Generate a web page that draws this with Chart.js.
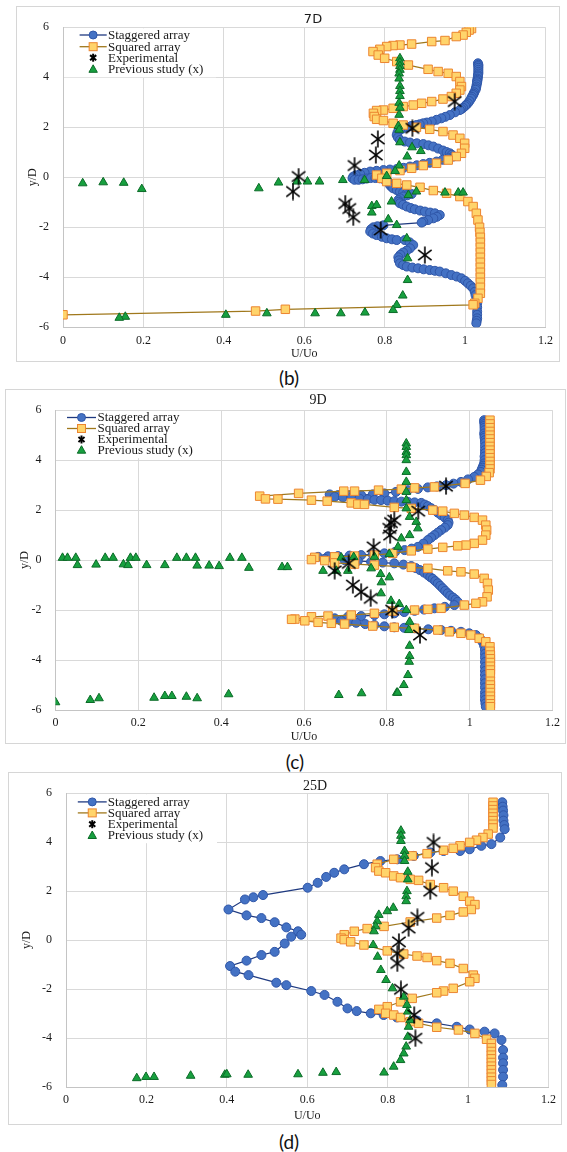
<!DOCTYPE html>
<html><head><meta charset="utf-8">
<script src="https://cdn.jsdelivr.net/npm/chart.js@4.4.1/dist/chart.umd.min.js"></script>
<style>
html,body{margin:0;padding:0;background:#fff;width:567px;height:1152px;overflow:hidden;position:relative}
.box{position:absolute;border:1px solid #d6d6d6;box-sizing:border-box}
canvas{position:absolute}
.cap{position:absolute;width:60px;text-align:center;font-family:Lato,"DejaVu Sans",sans-serif;font-size:19px;line-height:20px;color:#111}
</style></head><body>
<script>
// ---------- data ----------
const xTicks = [0, 0.2, 0.4, 0.6, 0.8, 1, 1.2];
const xTickLabels = ['0', '0.2', '0.4', '0.6', '0.8', '1', '1.2'];
const yTicks = [-6, -4, -2, 0, 2, 4, 6];
const yTickLabels = ['-6', '-4', '-2', '0', '2', '4', '6'];
const seriesNames = ['Staggered array', 'Squared array', 'Experimental', 'Previous study (x)'];
const panelTitles = ['7D', '9D', '25D'];
const captions = ['(b)', '(c)', '(d)'];
const xAxisTitle = 'U/Uo';
const yAxisTitle = 'y/D';

// 7D
const stag7 = [[1.032,4.56],[1.033,4.5],[1.033,4.45],[1.033,4.38],[1.033,4.3],[1.033,4.22],[1.033,4.15],[1.032,4.08],[1.032,4.03],[1.031,3.95],[1.031,3.9],[1.03,3.85],[1.03,3.8],[1.029,3.72],[1.028,3.63],[1.027,3.56],[1.026,3.5],[1.023,3.4],[1.021,3.34],[1.02,3.29],[1.017,3.22],[1.015,3.15],[1.011,3.05],[1.007,2.96],[1.003,2.9],[1.0,2.85],[0.995,2.78],[0.991,2.73],[0.987,2.69],[0.975,2.6],[0.962,2.49],[0.951,2.42],[0.941,2.36],[0.929,2.3],[0.917,2.23],[0.905,2.19],[0.896,2.16],[0.887,2.12],[0.879,2.09],[0.866,2.05],[0.855,2.0],[0.845,1.95],[0.838,1.89],[0.832,1.8],[0.83,1.69],[0.833,1.59],[0.838,1.49],[0.85,1.43],[0.863,1.39],[0.88,1.36],[0.896,1.33],[0.909,1.28],[0.921,1.23],[0.933,1.15],[0.945,1.07],[0.954,1.01],[0.962,0.96],[0.967,0.9],[0.97,0.83],[0.958,0.76],[0.944,0.7],[0.929,0.63],[0.912,0.58],[0.896,0.53],[0.88,0.48],[0.863,0.43],[0.847,0.38],[0.83,0.33],[0.813,0.31],[0.797,0.29],[0.78,0.26],[0.764,0.23],[0.75,0.18],[0.739,0.13],[0.728,0.08],[0.722,0.03],[0.72,-0.04],[0.725,-0.1],[0.735,-0.1],[0.745,-0.08],[0.755,-0.05],[0.765,-0.03],[0.777,-0.03],[0.788,-0.04],[0.797,-0.07],[0.805,-0.11],[0.81,-0.2],[0.813,-0.31],[0.817,-0.38],[0.821,-0.44],[0.83,-0.51],[0.838,-0.57],[0.846,-0.61],[0.855,-0.64],[0.867,-0.67],[0.856,-0.72],[0.846,-0.77],[0.838,-0.84],[0.834,-0.91],[0.835,-0.98],[0.838,-1.04],[0.846,-1.1],[0.855,-1.17],[0.865,-1.23],[0.875,-1.28],[0.888,-1.33],[0.9,-1.37],[0.913,-1.41],[0.925,-1.44],[0.937,-1.51],[0.93,-1.58],[0.921,-1.64],[0.908,-1.71],[0.896,-1.77],[0.892,-1.81],[0.797,-1.92],[0.782,-1.96],[0.772,-2.0],[0.766,-2.08],[0.764,-2.17],[0.771,-2.25],[0.78,-2.31],[0.793,-2.38],[0.805,-2.44],[0.818,-2.48],[0.83,-2.51],[0.85,-2.51],[0.862,-2.6],[0.871,-2.71],[0.863,-2.84],[0.855,-2.93],[0.846,-3.01],[0.839,-3.1],[0.834,-3.2],[0.835,-3.32],[0.838,-3.44],[0.846,-3.51],[0.855,-3.57],[0.869,-3.61],[0.883,-3.64],[0.897,-3.68],[0.912,-3.71],[0.925,-3.74],[0.937,-3.77],[0.952,-3.84],[0.966,-3.91],[0.979,-3.97],[0.991,-4.04],[1.0,-4.14],[1.007,-4.24],[1.014,-4.34],[1.02,-4.44],[1.024,-4.58],[1.026,-4.71],[1.028,-4.88],[1.03,-5.04],[1.03,-5.2],[1.03,-5.37],[1.03,-5.5],[1.03,-5.64],[1.029,-5.74],[1.028,-5.84]];
const sq7 = [[1.016,5.95],[1.01,5.89],[1.003,5.8],[0.995,5.69],[0.978,5.63],[0.95,5.47],[0.917,5.43],[0.867,5.33],[0.838,5.29],[0.821,5.27],[0.805,5.23],[0.788,5.12],[0.771,5.03],[0.784,4.89],[0.8,4.76],[0.83,4.63],[0.859,4.49],[0.908,4.32],[0.933,4.23],[0.958,4.16],[0.978,4.03],[0.987,3.83],[0.991,3.63],[0.987,3.49],[0.978,3.36],[0.966,3.23],[0.945,3.13],[0.917,3.03],[0.892,2.96],[0.871,2.89],[0.846,2.83],[0.821,2.76],[0.797,2.69],[0.78,2.67],[0.772,2.56],[0.774,2.43],[0.78,2.32],[0.797,2.27],[0.821,2.16],[0.846,2.09],[0.879,2.0],[0.912,1.92],[0.945,1.83],[0.97,1.69],[0.987,1.56],[0.999,1.36],[0.999,1.16],[0.991,0.96],[0.978,0.83],[0.958,0.69],[0.929,0.56],[0.896,0.47],[0.867,0.36],[0.838,0.27],[0.805,0.16],[0.78,0.09],[0.793,-0.04],[0.805,-0.17],[0.83,-0.24],[0.855,-0.31],[0.888,-0.4],[0.921,-0.53],[0.954,-0.64],[0.987,-0.77],[1.007,-0.97],[1.02,-1.17],[1.028,-1.44],[1.032,-1.71],[1.036,-2.0],[1.037,-2.2],[1.038,-2.4],[1.038,-2.6],[1.038,-2.8],[1.038,-3.0],[1.038,-3.2],[1.038,-3.4],[1.038,-3.6],[1.038,-3.8],[1.038,-4.0],[1.038,-4.2],[1.038,-4.4],[1.038,-4.64],[1.032,-4.84],[1.024,-5.04],[1.02,-5.1],[0.553,-5.28],[0.479,-5.35],[0,-5.5]];
const exp7 = [[0.974,3.03],[0.869,1.96],[0.783,1.53],[0.778,0.89],[0.725,0.47],[0.586,0.03],[0.572,-0.57],[0.702,-1.05],[0.712,-1.25],[0.722,-1.6],[0.79,-2.11],[0.9,-3.11]];
const prev7 = [[0.838,4.76],[0.838,4.6],[0.838,4.45],[0.838,4.3],[0.836,4.15],[0.836,3.95],[0.838,3.65],[0.838,3.45],[0.838,3.25],[0.836,2.98],[0.838,2.78],[0.836,2.5],[0.834,2.05],[0.836,1.9],[0.838,1.4],[0.868,1.2],[0.89,1.05],[0.856,0.83],[0.836,0.47],[0.826,0.25],[0.805,0.05],[0.75,-0.11],[0.696,-0.11],[0.638,-0.17],[0.608,-0.17],[0.582,-0.17],[0.536,-0.21],[0.487,-0.44],[0.196,-0.47],[0.151,-0.22],[0.1,-0.2],[0.049,-0.24],[0.859,-0.71],[0.879,-0.57],[0.95,-0.61],[0.983,-0.61],[0.995,-0.61],[0.817,-0.97],[0.768,-1.15],[0.78,-1.11],[0.768,-1.41],[0.809,-1.68],[0.83,-1.91],[0.855,-2.44],[0.857,-3.24],[0.857,-4.11],[0.845,-4.73],[0.83,-5.11],[0.821,-5.31],[0.751,-5.41],[0.691,-5.44],[0.627,-5.44],[0.507,-5.44],[0.405,-5.5],[0.155,-5.58],[0.14,-5.62]];

// 9D
const stag9 = [[1.035,5.6],[1.035,5.52],[1.036,5.45],[1.036,5.38],[1.036,5.3],[1.036,5.2],[1.035,5.07],[1.036,4.98],[1.036,4.9],[1.037,4.8],[1.037,4.7],[1.037,4.55],[1.037,4.4],[1.037,4.28],[1.036,4.15],[1.036,4.0],[1.035,3.87],[1.033,3.78],[1.031,3.7],[1.029,3.62],[1.027,3.53],[1.02,3.43],[1.011,3.33],[0.996,3.23],[0.979,3.13],[0.961,3.06],[0.943,3.0],[0.921,2.95],[0.899,2.91],[0.875,2.85],[0.851,2.8],[0.822,2.73],[0.794,2.67],[0.766,2.63],[0.738,2.6],[0.71,2.6],[0.682,2.6],[0.662,2.63],[0.674,2.53],[0.694,2.51],[0.714,2.49],[0.734,2.46],[0.754,2.43],[0.77,2.41],[0.786,2.4],[0.802,2.38],[0.818,2.36],[0.835,2.34],[0.851,2.33],[0.867,2.31],[0.883,2.29],[0.892,2.22],[0.899,2.16],[0.907,2.08],[0.915,2.0],[0.923,1.9],[0.931,1.8],[0.94,1.7],[0.947,1.6],[0.949,1.5],[0.947,1.4],[0.94,1.3],[0.931,1.2],[0.923,1.1],[0.915,1.0],[0.907,0.9],[0.899,0.8],[0.888,0.66],[0.875,0.53],[0.86,0.46],[0.843,0.4],[0.82,0.33],[0.794,0.27],[0.766,0.23],[0.738,0.2],[0.71,0.18],[0.682,0.16],[0.658,0.15],[0.634,0.13],[0.622,0.07],[0.65,0.05],[0.674,0.02],[0.698,0.0],[0.73,-0.03],[0.762,-0.07],[0.79,-0.1],[0.818,-0.13],[0.84,-0.18],[0.859,-0.24],[0.87,-0.32],[0.88,-0.4],[0.89,-0.5],[0.899,-0.6],[0.905,-0.68],[0.911,-0.75],[0.917,-0.84],[0.923,-0.93],[0.929,-1.03],[0.935,-1.13],[0.941,-1.23],[0.947,-1.33],[0.953,-1.42],[0.96,-1.5],[0.966,-1.58],[0.971,-1.67],[0.963,-1.8],[0.94,-1.87],[0.915,-1.93],[0.89,-1.98],[0.867,-2.03],[0.842,-2.08],[0.818,-2.13],[0.794,-2.17],[0.77,-2.2],[0.738,-2.24],[0.706,-2.27],[0.674,-2.33],[0.69,-2.43],[0.708,-2.47],[0.726,-2.51],[0.748,-2.56],[0.77,-2.6],[0.794,-2.65],[0.818,-2.69],[0.842,-2.71],[0.867,-2.73],[0.9,-2.77],[0.931,-2.8],[0.955,-2.83],[0.979,-2.87],[0.999,-2.93],[1.015,-3.0],[1.025,-3.13],[1.031,-3.27],[1.035,-3.43],[1.037,-3.6],[1.037,-3.75],[1.037,-3.9],[1.037,-4.08],[1.037,-4.27],[1.037,-4.44],[1.037,-4.6],[1.037,-4.77],[1.037,-4.93],[1.037,-5.1],[1.037,-5.3],[1.037,-5.45],[1.037,-5.6],[1.038,-5.74],[1.039,-5.87]];
const sq9 = [[1.049,5.6],[1.049,5.45],[1.049,5.3],[1.049,5.15],[1.049,5.0],[1.049,4.85],[1.049,4.7],[1.049,4.55],[1.049,4.4],[1.049,4.25],[1.049,4.1],[1.049,3.95],[1.049,3.8],[1.049,3.65],[1.047,3.5],[1.04,3.35],[1.026,3.2],[0.989,3.07],[0.915,2.93],[0.867,2.89],[0.835,2.84],[0.78,2.8],[0.722,2.76],[0.696,2.76],[0.587,2.67],[0.493,2.56],[0.507,2.45],[0.537,2.44],[0.618,2.4],[0.656,2.36],[0.714,2.29],[0.73,2.24],[0.746,2.23],[0.818,2.11],[0.859,2.07],[0.911,2.0],[0.935,1.96],[0.963,1.87],[0.987,1.8],[1.011,1.71],[1.031,1.6],[1.039,1.4],[1.041,1.2],[1.039,1.0],[1.031,0.8],[1.011,0.67],[0.991,0.6],[0.971,0.57],[0.935,0.51],[0.899,0.44],[0.859,0.37],[0.814,0.27],[0.77,0.2],[0.722,0.16],[0.674,0.13],[0.626,0.11],[0.618,0.02],[0.65,-0.02],[0.674,-0.11],[0.722,-0.16],[0.77,-0.2],[0.859,-0.29],[0.899,-0.33],[0.947,-0.43],[0.979,-0.47],[1.011,-0.56],[1.035,-0.73],[1.043,-0.93],[1.045,-1.2],[1.042,-1.47],[1.031,-1.67],[1.015,-1.73],[0.987,-1.8],[0.931,-1.93],[0.899,-1.97],[0.867,-2.0],[0.814,-2.04],[0.77,-2.13],[0.714,-2.2],[0.658,-2.24],[0.618,-2.27],[0.578,-2.36],[0.57,-2.37],[0.602,-2.43],[0.634,-2.49],[0.666,-2.53],[0.698,-2.56],[0.766,-2.64],[0.818,-2.69],[0.867,-2.73],[0.923,-2.8],[0.951,-2.87],[0.979,-2.93],[1.003,-3.0],[1.023,-3.13],[1.039,-3.27],[1.049,-3.47],[1.049,-3.65],[1.05,-3.8],[1.05,-3.95],[1.05,-4.1],[1.05,-4.25],[1.05,-4.4],[1.05,-4.55],[1.05,-4.85],[1.05,-5.0],[1.05,-5.15],[1.05,-5.3],[1.05,-5.45],[1.05,-5.6],[1.05,-5.75],[1.05,-5.87]];
const exp9 = [[0.943,2.96],[0.876,1.96],[0.818,1.6],[0.81,1.5],[0.806,1.27],[0.808,1.0],[0.768,0.53],[0.708,-0.13],[0.674,-0.43],[0.718,-1.0],[0.738,-1.27],[0.761,-1.53],[0.813,-2.0],[0.88,-3.0]];
const prev9 = [[0.847,4.67],[0.847,4.53],[0.847,4.33],[0.847,4.2],[0.847,4.0],[0.847,3.53],[0.847,3.13],[0.847,2.73],[0.847,2.4],[0.847,2.07],[0.855,1.73],[0.871,1.53],[0.875,1.27],[0.855,1.0],[0.835,0.87],[0.827,0.53],[0.806,0.24],[0.77,0.13],[0.72,0.12],[0.69,0.1],[0.762,-0.33],[0.785,-0.56],[0.806,-0.69],[0.787,-0.89],[0.786,-1.33],[0.81,-1.63],[0.83,-1.76],[0.847,-2.0],[0.855,-2.47],[0.853,-2.8],[0.855,-3.43],[0.855,-3.84],[0.854,-4.07],[0.851,-4.6],[0.841,-5.0],[0.824,-5.31],[0.646,-0.43],[0.678,-0.43],[0.706,-0.43],[0.017,0.09],[0.029,0.09],[0.049,0.09],[0.12,0.09],[0.139,0.09],[0.181,0.09],[0.194,0.09],[0.293,0.09],[0.316,0.09],[0.338,0.09],[0.421,0.09],[0.45,0.09],[0.053,-0.2],[0.098,-0.18],[0.164,-0.17],[0.175,-0.2],[0.22,-0.2],[0.264,-0.2],[0.342,-0.22],[0.371,-0.22],[0.395,-0.24],[0.467,-0.31],[0.547,-0.28],[0.56,-0.28],[0,-5.69],[0.084,-5.6],[0.105,-5.53],[0.238,-5.51],[0.264,-5.44],[0.281,-5.44],[0.316,-5.47],[0.342,-5.53],[0.418,-5.37],[0.684,-5.4],[0.739,-5.33],[0.826,-5.31]];

// 25D
const stag25 = [[1.085,5.63],[1.086,5.45],[1.087,5.29],[1.088,5.1],[1.088,4.88],[1.09,4.7],[1.091,4.53],[1.08,4.19],[1.058,3.92],[1.033,3.85],[1.004,3.71],[0.98,3.64],[0.939,3.64],[0.906,3.58],[0.865,3.44],[0.824,3.3],[0.782,3.23],[0.741,3.1],[0.692,2.89],[0.667,2.75],[0.647,2.58],[0.626,2.34],[0.601,2.14],[0.49,1.84],[0.466,1.75],[0.445,1.66],[0.404,1.25],[0.449,1.01],[0.486,0.9],[0.519,0.73],[0.548,0.52],[0.577,0.36],[0.585,0.22],[0.56,0.14],[0.544,-0.14],[0.519,-0.48],[0.486,-0.61],[0.449,-0.84],[0.408,-1.06],[0.421,-1.29],[0.454,-1.43],[0.523,-1.74],[0.548,-1.84],[0.61,-2.08],[0.643,-2.24],[0.675,-2.52],[0.7,-2.79],[0.723,-2.9],[0.758,-2.99],[0.79,-3.06],[0.823,-3.16],[0.873,-3.29],[0.922,-3.4],[0.972,-3.54],[1.004,-3.65],[1.041,-3.74],[1.066,-3.81],[1.083,-4.08],[1.087,-4.49],[1.087,-4.8],[1.087,-5.03],[1.087,-5.3],[1.087,-5.58],[1.085,-5.92]];
const sq25 = [[1.062,5.63],[1.062,5.48],[1.062,5.33],[1.062,5.18],[1.062,5.03],[1.062,4.88],[1.062,4.73],[1.062,4.58],[1.05,4.33],[1.037,4.19],[1.021,4.08],[1.004,3.99],[0.98,3.85],[0.963,3.75],[0.939,3.67],[0.898,3.53],[0.861,3.44],[0.815,3.3],[0.774,3.1],[0.77,2.96],[0.778,2.82],[0.795,2.75],[0.815,2.62],[0.832,2.55],[0.856,2.48],[0.877,2.44],[0.906,2.27],[0.939,2.14],[0.963,2.0],[0.988,1.79],[1.004,1.59],[1.017,1.45],[1.008,1.25],[0.988,1.15],[0.955,1.01],[0.922,0.9],[0.856,0.74],[0.791,0.56],[0.749,0.47],[0.717,0.36],[0.692,0.22],[0.684,0.08],[0.692,0.02],[0.708,-0.07],[0.741,-0.2],[0.799,-0.44],[0.84,-0.57],[0.873,-0.65],[0.898,-0.71],[0.922,-0.84],[0.955,-0.95],[0.988,-1.16],[1.013,-1.43],[1.017,-1.56],[1.004,-1.7],[0.963,-1.97],[0.939,-2.08],[0.922,-2.15],[0.861,-2.38],[0.832,-2.52],[0.799,-2.72],[0.778,-2.83],[0.795,-2.99],[0.815,-3.06],[0.832,-3.16],[0.856,-3.33],[0.877,-3.4],[0.922,-3.56],[0.976,-3.67],[1.017,-3.81],[1.046,-4.05],[1.058,-4.22],[1.058,-4.4],[1.058,-4.55],[1.058,-4.7],[1.058,-4.85],[1.058,-5.0],[1.058,-5.15],[1.058,-5.3],[1.058,-5.45],[1.058,-5.6],[1.058,-5.75],[1.058,-5.9]];
const exp25 = [[0.914,3.99],[0.91,2.96],[0.906,2.0],[0.874,0.93],[0.852,0.49],[0.828,-0.07],[0.824,-0.54],[0.824,-0.95],[0.833,-2.01],[0.866,-3.06],[0.869,-4.01]];
const prev25 = [[0.833,4.47],[0.833,4.26],[0.833,4.05],[0.842,3.64],[0.842,3.44],[0.842,3.23],[0.85,2.79],[0.85,2.48],[0.848,2.0],[0.846,1.79],[0.846,1.59],[0.814,1.32],[0.799,1.18],[0.778,1.03],[0.774,0.77],[0.77,0.56],[0.766,0.36],[0.764,-0.2],[0.775,-0.68],[0.783,-1.22],[0.796,-1.63],[0.812,-1.97],[0.84,-2.31],[0.848,-2.65],[0.85,-2.92],[0.856,-3.27],[0.852,-3.54],[0.85,-3.95],[0.846,-4.35],[0.84,-4.63],[0.832,-4.9],[0.815,-5.17],[0.791,-5.41],[0.672,-5.39],[0.639,-5.42],[0.577,-5.48],[0.453,-5.5],[0.395,-5.5],[0.4,-5.48],[0.31,-5.54],[0.219,-5.59],[0.199,-5.59],[0.176,-5.64]];

// ---------- layout (page pixels) ----------
const panels = [
  {data:[stag7,sq7,exp7,prev7], box:{x:16,y:6,w:544,h:356}, plot:{l:63,r:545.5,t:27.3,b:327.3}, yTitleX:33, xTitleY:354,
   title:{x:313,y:20,font:'13px "DejaVu Sans"'}, legend:{l1:16.6,l2:43.7,tx:45,rows:[7.7,19.4,30.4,42],w:152,h:49}, cap:{x:289,y:378}},
  {data:[stag9,sq9,exp9,prev9], box:{x:5,y:389,w:561,h:355}, plot:{l:55.5,r:554,t:410,b:710}, yTitleX:24.6, xTitleY:736.7,
   title:{x:318,y:400.7,font:'14px "Liberation Serif"'}, legend:{l1:11.5,l2:40.5,tx:42,rows:[7.3,18.3,29.3,40],w:150,h:47}, cap:{x:295,y:761.7}},
  {data:[stag25,sq25,exp25,prev25], box:{x:8,y:772,w:554,h:353}, plot:{l:66,r:552.3,t:793,b:1087}, yTitleX:27, xTitleY:1115.7,
   title:{x:315,y:786,font:'14px "Liberation Serif"'}, legend:{l1:11.8,l2:40.7,tx:41.8,rows:[8.7,19.7,31,42.3],w:150,h:49}, cap:{x:289,y:1141.7}}
];

const C = {
  stagFill:'#4472c4', stagEdge:'#2f56a8', stagLine:'#1f3a80',
  sqFill:'#ffd46b', sqEdge:'#ec8530', sqLine:'#a0781c',
  triFill:'#17a03f', triEdge:'#0c6b28', grid:'#d9d9d9', axis:'#c4c4c4', text:'#1a1a1a'
};

function makeAsterisk(size, lw, ang) {
  const c = document.createElement('canvas');
  c.width = c.height = size;
  const g = c.getContext('2d');
  g.strokeStyle = '#000'; g.lineWidth = lw; g.lineCap = 'butt';
  const r = size / 2 - 0.5, cx = size / 2, cy = size / 2;
  [90, ang, -ang].forEach(a => {
    const t = a * Math.PI / 180;
    g.beginPath();
    g.moveTo(cx - r * Math.cos(t), cy - r * Math.sin(t));
    g.lineTo(cx + r * Math.cos(t), cy + r * Math.sin(t));
    g.stroke();
  });
  return c;
}
const asterisk = makeAsterisk(18, 1.6, 38);

const toXY = arr => arr.map(p => ({x: p[0], y: p[1]}));
const serif = '"Liberation Serif", "Times New Roman", serif';

function drawLegendMarker(ctx, k, x, y) {
  ctx.save();
  ctx.lineWidth = 1;
  if (k === 0) {
    ctx.fillStyle = C.stagFill; ctx.strokeStyle = C.stagEdge;
    ctx.beginPath(); ctx.arc(x, y, 4, 0, Math.PI * 2); ctx.fill(); ctx.stroke();
  } else if (k === 1) {
    ctx.fillStyle = C.sqFill; ctx.strokeStyle = C.sqEdge;
    ctx.fillRect(x - 4, y - 4, 8, 8); ctx.strokeRect(x - 4, y - 4, 8, 8);
  } else if (k === 2) {
    ctx.strokeStyle = '#000'; ctx.lineWidth = 2;
    [90, 40, -40].forEach(a => {
      const t = a * Math.PI / 180, r = 4;
      ctx.beginPath(); ctx.moveTo(x - r * Math.cos(t), y - r * Math.sin(t)); ctx.lineTo(x + r * Math.cos(t), y + r * Math.sin(t)); ctx.stroke();
    });
  } else {
    ctx.fillStyle = C.triFill; ctx.strokeStyle = C.triEdge;
    ctx.beginPath(); ctx.moveTo(x, y - 4.5); ctx.lineTo(x + 4.2, y + 3); ctx.lineTo(x - 4.2, y + 3); ctx.closePath(); ctx.fill(); ctx.stroke();
  }
  ctx.restore();
}

panels.forEach((p, i) => {
  const b = p.box;
  const div = document.createElement('div');
  div.className = 'box';
  Object.assign(div.style, {left: b.x + 'px', top: b.y + 'px', width: b.w + 'px', height: b.h + 'px'});
  document.body.appendChild(div);

  const cv = document.createElement('canvas');
  cv.width = b.w; cv.height = b.h;
  Object.assign(cv.style, {left: b.x + 'px', top: b.y + 'px', width: b.w + 'px', height: b.h + 'px'});
  document.body.appendChild(cv);

  const cap = document.createElement('div');
  cap.className = 'cap';
  cap.textContent = captions[i];
  Object.assign(cap.style, {left: (p.cap.x - 30) + 'px', top: (p.cap.y - 10) + 'px'});
  document.body.appendChild(cap);

  const yW = p.plot.l - b.x;
  const padR = b.x + b.w - p.plot.r;
  const padT = p.plot.t - b.y;
  const xH = b.y + b.h - p.plot.b;
  const yTitlePad = Math.max(0, (p.yTitleX - b.x) - 7.2);
  const xTitlePad = Math.max(0, (b.y + b.h - p.xTitleY) - 7.2);

  const overlay = {
    id: 'overlay' + i,
    afterDraw(chart) {
      const ctx = chart.ctx, a = chart.chartArea, L = p.legend;
      ctx.save();
      ctx.fillStyle = '#fff';
      ctx.fillRect(a.left + 1, a.top + 1, L.w, L.h);
      ctx.font = '13px ' + serif;
      ctx.textBaseline = 'middle';
      ctx.textAlign = 'left';
      chart.data.datasets.forEach((ds, k) => {
        const y = a.top + L.rows[k];
        const x1 = a.left + L.l1, x2 = a.left + L.l2;
        if (k < 2) {
          ctx.strokeStyle = k === 0 ? C.stagLine : C.sqLine;
          ctx.lineWidth = 1.3;
          ctx.beginPath(); ctx.moveTo(x1, y); ctx.lineTo(x2, y); ctx.stroke();
        }
        drawLegendMarker(ctx, k, (x1 + x2) / 2, y);
        ctx.fillStyle = C.text;
        ctx.fillText(ds.label, a.left + L.tx, y + 0.5);
      });
      ctx.font = p.title.font;
      ctx.textAlign = 'center';
      ctx.fillStyle = C.text;
      ctx.fillText(panelTitles[i], p.title.x - b.x, p.title.y - b.y);
      ctx.restore();
    }
  };

  const [st, sq, ex, pr] = p.data;
  new Chart(cv.getContext('2d'), {
    type: 'scatter',
    data: {
      datasets: [
        {label: seriesNames[0], data: toXY(st), showLine: true, tension: 0, borderColor: C.stagLine, borderWidth: 1.2,
         pointStyle: 'circle', pointRadius: 4.5, pointBackgroundColor: C.stagFill, pointBorderColor: C.stagEdge, pointBorderWidth: 1, order: 4},
        {label: seriesNames[1], data: toXY(sq), showLine: true, tension: 0, borderColor: C.sqLine, borderWidth: 1.2,
         pointStyle: 'rect', pointRadius: 6, pointBackgroundColor: C.sqFill, pointBorderColor: C.sqEdge, pointBorderWidth: 1, order: 3},
        {label: seriesNames[2], data: toXY(ex), showLine: false, pointStyle: asterisk, pointRadius: 9, order: 1},
        {label: seriesNames[3], data: toXY(pr), showLine: false, pointStyle: 'triangle', pointRadius: 5,
         pointBackgroundColor: C.triFill, pointBorderColor: C.triEdge, pointBorderWidth: 1, order: 2}
      ]
    },
    options: {
      responsive: false, animation: false, devicePixelRatio: 1,
      layout: {autoPadding: false, padding: {left: 0, right: padR, top: padT, bottom: 0}},
      plugins: {legend: {display: false}, tooltip: {enabled: false}, title: {display: false}},
      scales: {
        x: {
          type: 'linear', min: 0, max: 1.2,
          afterBuildTicks: s => { s.ticks = xTicks.map(v => ({value: v})); },
          afterFit: s => { s.height = xH; },
          grid: {color: C.grid, drawTicks: false, lineWidth: 1},
          border: {color: C.axis, width: 1},
          ticks: {padding: 6, color: C.text, font: {family: serif, size: 12}, maxRotation: 0,
                  callback: (v, idx) => xTickLabels[idx]},
          title: {display: true, text: xAxisTitle, color: C.text, font: {family: serif, size: 12}, padding: {top: 0, bottom: xTitlePad}}
        },
        y: {
          type: 'linear', min: -6, max: 6,
          afterBuildTicks: s => { s.ticks = yTicks.map(v => ({value: v})); },
          afterFit: s => { s.width = yW; },
          grid: {color: C.grid, drawTicks: false, lineWidth: 1},
          border: {color: C.axis, width: 1},
          ticks: {padding: 14, color: C.text, font: {family: serif, size: 12},
                  callback: (v, idx) => yTickLabels[idx]},
          title: {display: true, text: yAxisTitle, color: C.text, font: {family: serif, size: 12}, padding: {top: yTitlePad, bottom: 0}}
        }
      }
    },
    plugins: [overlay]
  });
});
</script>
</body></html>
